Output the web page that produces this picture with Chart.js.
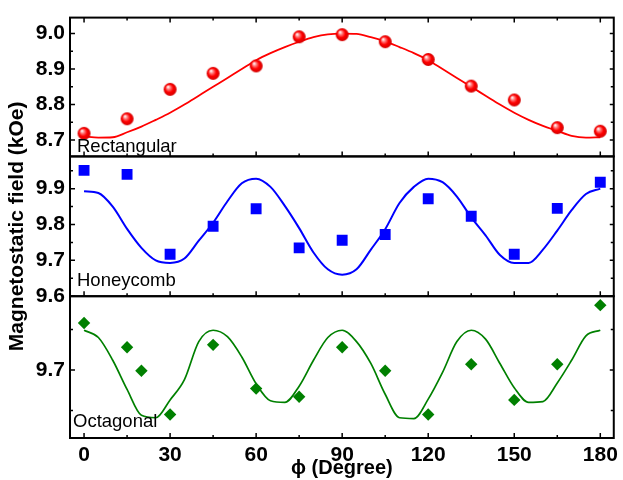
<!DOCTYPE html>
<html>
<head>
<meta charset="utf-8">
<script src="https://cdn.jsdelivr.net/npm/chart.js@4.4.1/dist/chart.umd.min.js"></script>
<style>
    html, body { margin: 0; padding: 0; background: #fff; }
    #wrap { position: relative; width: 623px; height: 480px; }
</style>
</head>
<body>
<div id="wrap"><canvas id="myChart" width="623" height="480"></canvas></div>
<script>
// measured points (phi in degrees, field in kOe)
var angles = [0, 15, 30, 45, 60, 75, 90, 105, 120, 135, 150, 165, 180];
var octAngles = [0, 15, 20, 30, 45, 60, 75, 90, 105, 120, 135, 150, 165, 180];
var rectField = [8.719, 8.760, 8.843, 8.888, 8.909, 8.991, 8.997, 8.977, 8.927, 8.852, 8.813, 8.735, 8.725];
var honeyField = [9.951, 9.940, 9.717, 9.795, 9.844, 9.735, 9.756, 9.772, 9.872, 9.823, 9.717, 9.845, 9.918];
var octField = [9.758, 9.728, 9.699, 9.645, 9.731, 9.677, 9.667, 9.728, 9.699, 9.645, 9.707, 9.663, 9.707, 9.780];

// fitted curves, read every 5 degrees
var fitAngles = [0, 5, 10, 15, 20, 25, 30, 35, 40, 45, 50, 55, 60, 65, 70, 75, 80, 85, 90,
    95, 100, 105, 110, 115, 120, 125, 130, 135, 140, 145, 150, 155, 160, 165, 170, 175, 180];
var rectFit = [8.710, 8.707, 8.708, 8.722, 8.738, 8.757, 8.777, 8.800, 8.825, 8.850, 8.875, 8.900, 8.925,
    8.945, 8.962, 8.977, 8.990, 8.998, 9.000, 8.999, 8.990, 8.978, 8.962, 8.945, 8.925, 8.900, 8.875,
    8.850, 8.825, 8.800, 8.777, 8.757, 8.740, 8.726, 8.712, 8.707, 8.708];
var honeyFit = [9.893, 9.888, 9.850, 9.788, 9.735, 9.700, 9.693, 9.705, 9.755, 9.805, 9.865, 9.915, 9.928,
    9.905, 9.852, 9.790, 9.722, 9.675, 9.660, 9.675, 9.730, 9.787, 9.860, 9.905, 9.928, 9.918, 9.878,
    9.820, 9.770, 9.715, 9.693, 9.693, 9.730, 9.783, 9.840, 9.885, 9.900];
var octFit = [9.749, 9.740, 9.712, 9.676, 9.644, 9.641, 9.663, 9.688, 9.735, 9.749, 9.741, 9.716, 9.683,
    9.662, 9.660, 9.680, 9.712, 9.740, 9.749, 9.735, 9.708, 9.670, 9.641, 9.640, 9.664, 9.697, 9.735,
    9.749, 9.738, 9.708, 9.678, 9.660, 9.661, 9.684, 9.712, 9.742, 9.749];

// tick values
var xTicks = [0, 30, 60, 90, 120, 150, 180];
var xMinor = [15, 45, 75, 105, 135, 165];
var rectTicks = [8.7, 8.8, 8.9, 9.0];
var rectMinor = [8.75, 8.85, 8.95];
var honeyTicks = [9.6, 9.7, 9.8, 9.9];
var honeyMinor = [9.65, 9.75, 9.85, 9.95];
var octTicks = [9.7];
var octMinor = [9.65, 9.75];

var FONT = "'Liberation Sans', Arial, sans-serif";

function pts(xs, ys) {
    return xs.map(function (x, i) { return { x: x, y: ys[i] }; });
}

// shaded red ball marker
function sphere(r) {
    var c = document.createElement("canvas");
    c.width = c.height = Math.ceil(2 * r + 2);
    var g = c.getContext("2d");
    var m = c.width / 2;
    var grad = g.createRadialGradient(m - r * 0.35, m - r * 0.4, 0.3, m, m, r);
    grad.addColorStop(0, "#ffffff");
    grad.addColorStop(0.3, "#ff7070");
    grad.addColorStop(0.6, "#ff0000");
    grad.addColorStop(1, "#d00000");
    g.fillStyle = grad;
    g.beginPath();
    g.arc(m, m, r, 0, Math.PI * 2);
    g.fill();
    return c;
}

function setTicks(list) {
    return function (scale) {
        scale.ticks = list.map(function (v) { return { value: v }; });
    };
}

var panels = [
    { id: "yRect", name: "Rectangular", major: rectTicks, minor: rectMinor, dx: 7, dy: -4 },
    { id: "yHoney", name: "Honeycomb", major: honeyTicks, minor: honeyMinor, dx: 7, dy: -10 },
    { id: "yOct", name: "Octagonal", major: octTicks, minor: octMinor, dx: 3, dy: -11 }
];

// box frames with inward ticks and panel names
var frameTicks = {
    id: "frameTicks",
    afterDatasetsDraw: function (chart) {
        var c = chart.ctx;
        var xs = chart.scales.x;
        var left = chart.chartArea.left, right = chart.chartArea.right;
        c.save();
        c.strokeStyle = "#000";
        c.fillStyle = "#000";
        panels.forEach(function (p, k) {
            var ys = chart.scales[p.id];
            var top = ys.top, bot = ys.bottom;
            c.lineWidth = 1.5;
            c.beginPath();
            p.major.forEach(function (v) {
                var y = ys.getPixelForValue(v);
                c.moveTo(left, y); c.lineTo(left + 5, y);
                c.moveTo(right, y); c.lineTo(right - 4, y);
            });
            p.minor.forEach(function (v) {
                var y = ys.getPixelForValue(v);
                c.moveTo(left, y); c.lineTo(left + 3, y);
                c.moveTo(right, y); c.lineTo(right - 3, y);
            });
            xTicks.forEach(function (v) {
                var x = xs.getPixelForValue(v);
                c.moveTo(x, bot); c.lineTo(x, bot - 5);
                if (k === 0) { c.moveTo(x, top); c.lineTo(x, top + 5); }
            });
            xMinor.forEach(function (v) {
                var x = xs.getPixelForValue(v);
                c.moveTo(x, bot); c.lineTo(x, bot - 3);
                if (k === 0) { c.moveTo(x, top); c.lineTo(x, top + 3); }
            });
            c.stroke();
            c.lineWidth = 2;
            c.strokeRect(left, top, right - left, bot - top);
            c.font = "18.5px " + FONT;
            c.textAlign = "left";
            c.textBaseline = "alphabetic";
            c.fillText(p.name, left + p.dx, bot + p.dy);
        });
        c.restore();
    }
};

function yAxis(weight, min, max, list, title) {
    return {
        type: "linear",
        position: "left",
        stack: "panels",
        stackWeight: weight,
        min: min,
        max: max,
        afterBuildTicks: setTicks(list),
        afterFit: function (scale) { scale.width = 70; },
        grid: { display: false, drawTicks: false },
        border: { display: false },
        ticks: {
            color: "#000",
            padding: 5,
            autoSkip: false,
            font: { family: FONT, size: 21, weight: "bold" },
            callback: function (v) { return v.toFixed(1); }
        },
        title: title ? {
            display: true,
            text: title,
            color: "#000",
            padding: { top: 5, bottom: 0 },
            font: { family: FONT, size: 21, weight: "bold" }
        } : { display: false }
    };
}

function fitLine(label, xs, ys, axis, color, width) {
    return {
        label: label,
        data: pts(xs, ys),
        yAxisID: axis,
        showLine: true,
        pointRadius: 0,
        borderColor: color,
        borderWidth: width,
        cubicInterpolationMode: "monotone"
    };
}

var ctx = document.getElementById("myChart").getContext("2d");

myChart = new Chart(ctx, {
    type: "scatter",
    data: {
        datasets: [
            {
                label: "Rectangular",
                data: pts(angles, rectField),
                yAxisID: "yRect",
                pointStyle: sphere(6.5),
                pointRadius: 6.5
            },
            {
                label: "Honeycomb",
                data: pts(angles, honeyField),
                yAxisID: "yHoney",
                pointStyle: "rect",
                pointRadius: 7.7,
                backgroundColor: "#0000ff",
                borderWidth: 0
            },
            {
                label: "Octagonal",
                data: pts(octAngles, octField),
                yAxisID: "yOct",
                pointStyle: "rectRot",
                pointRadius: 6.2,
                backgroundColor: "#008000",
                borderWidth: 0
            },
            fitLine("Rectangular fit", fitAngles, rectFit, "yRect", "#ff0000", 1.8),
            fitLine("Honeycomb fit", fitAngles, honeyFit, "yHoney", "#0000ff", 2),
            fitLine("Octagonal fit", fitAngles, octFit, "yOct", "#008000", 1.7)
        ]
    },
    options: {
        responsive: false,
        animation: false,
        layout: { padding: { top: 14, right: 6, left: 0, bottom: 0 } },
        plugins: {
            legend: { display: false },
            tooltip: { enabled: false }
        },
        scales: {
            x: {
                type: "linear",
                min: -4.9,
                max: 184.7,
                afterBuildTicks: setTicks(xTicks),
                afterFit: function (scale) { scale.height = 42; },
                grid: { display: false, drawTicks: false },
                border: { display: false },
                ticks: {
                    color: "#000",
                    padding: 5,
                    autoSkip: false,
                    maxRotation: 0,
                    font: { family: FONT, size: 21, weight: "bold" }
                },
                title: {
                    display: true,
                    text: "ϕ (Degree)",
                    color: "#000",
                    padding: { top: 0, bottom: 0 },
                    font: { family: FONT, size: 20, weight: "bold" }
                }
            },
            yOct: yAxis(143, 9.616, 9.791, octTicks, null),
            yHoney: yAxis(141, 9.6, 9.99, honeyTicks, "Magnetostatic field (kOe)"),
            yRect: yAxis(140, 8.654, 9.045, rectTicks, null)
        }
    },
    plugins: [frameTicks]
});
</script>
</body>
</html>
